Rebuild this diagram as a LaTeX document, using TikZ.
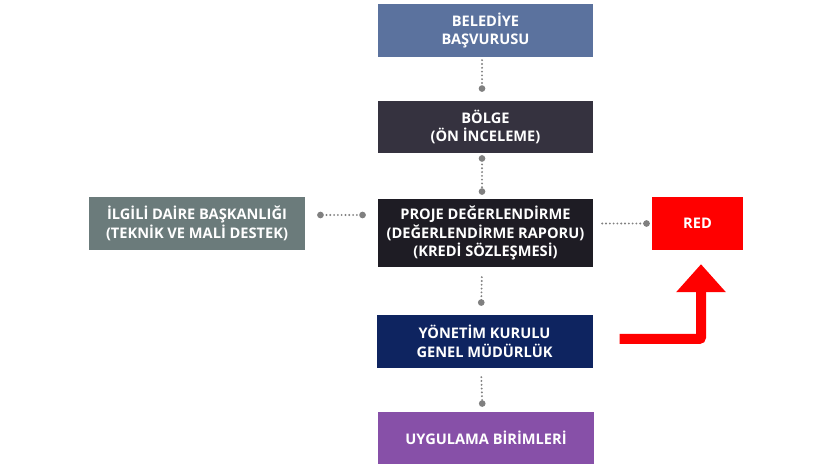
\documentclass[tikz,border=0pt]{standalone}
\usepackage{fontspec}
\setmainfont{Open Sans}
\usetikzlibrary{arrows.meta,calc,positioning}
\definecolor{cBel}{HTML}{5B729E}
\definecolor{cBol}{HTML}{35323F}
\definecolor{cPrj}{HTML}{1E1C24}
\definecolor{cIlg}{HTML}{6B7B7B}
\definecolor{cYon}{HTML}{0E2460}
\definecolor{cUyg}{HTML}{8750A8}
\definecolor{cDot}{HTML}{808080}
\begin{document}
\begin{tikzpicture}[x=1pt,y=-1pt,line join=round,
  box/.style={minimum width=215pt,minimum height=53pt,inner sep=0pt,align=center,
    text=white,font=\fontsize{14.6}{18.5}\selectfont\bfseries},
  dotline/.style={cDot,line width=2.1pt,line cap=round,dash pattern=on 0pt off 3.8pt},
  dotend/.style={-{Circle[length=6.5pt]}},
  dotboth/.style={{Circle[length=6.5pt]}-{Circle[length=6.5pt]}},
  redarrow/.style={red,line width=10pt,line join=miter,rounded corners=2pt,
    -{Triangle[width=48pt,length=28pt]}}]
\useasboundingbox (0,0) rectangle (833,470);
% boxes
\node[box,fill=cBel] (bel) at (485.5,30.5) {BELEDİYE\\BAŞVURUSU};
\node[box,fill=cBol,minimum height=52pt] (bol) at (485.5,127) {BÖLGE\\(ÖN İNCELEME)};
\node[box,fill=cPrj,minimum height=68pt] (pd) at (485.5,233) {PROJE DEĞERLENDİRME\\(DEĞERLENDİRME RAPORU)\\(KREDİ SÖZLEŞMESİ)};
\node[box,fill=cYon,minimum width=216pt] (yk) at (484.5,341.5) {YÖNETİM KURULU\\GENEL MÜDÜRLÜK};
\node[box,fill=cUyg,minimum width=216pt,minimum height=52pt] (uyg) at (486,438) {UYGULAMA BİRİMLERİ};
\node[box,fill=cIlg,minimum width=216pt] (ilg) at (197,223.5) {İLGİLİ DAİRE BAŞKANLIĞI\\(TEKNİK VE MALİ DESTEK)};
\node[box,fill=red,minimum width=91pt] (red) at (697.5,223.5) {RED};
% dotted connectors
\foreach \a/\b/\s/\e/\t in {bel/bol/3/9/dotend,bol/pd/2/4/dotboth,pd/yk/10/9/dotend,yk/uyg/9/5/dotend}
  \draw[dotline,\t,shorten <=\s pt,shorten >=\e pt] ([xshift=-3.5pt]\a.south) -- ([xshift=-3.5pt]\b.north);
\draw[dotline,dotboth,shorten <=12pt,shorten >=12pt] ([yshift=8.5pt]ilg.east) -- ([yshift=8.5pt]ilg.east -| pd.west);
\draw[dotline,dotend,shorten <=9pt,shorten >=2pt] (pd.east |- red.west) -- (red.west);
% red arrow
\coordinate (a0) at ($(yk.east)+(27,-2.5)$);
\coordinate (a1) at ($(red.south)+(3.5,14)$);
\draw[redarrow] (a0) -- (a0 -| a1) -- (a1);
\end{tikzpicture}
\end{document}
